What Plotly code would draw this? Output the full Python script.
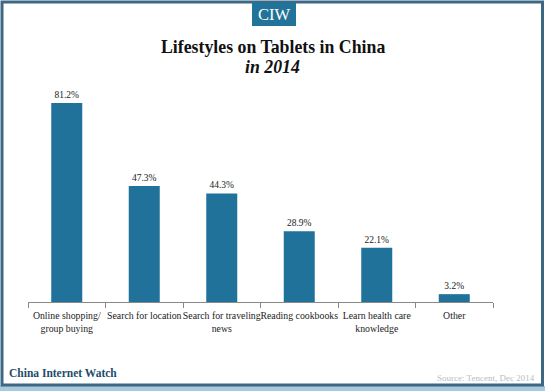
import plotly.graph_objects as go

categories = ["Online shopping/<br>group buying", "Search for location",
              "Search for traveling<br>news", "Reading cookbooks",
              "Learn health care<br>knowledge", "Other"]
values = [81.2, 47.3, 44.3, 28.9, 22.1, 3.2]
value_labels = ["81.2%", "47.3%", "44.3%", "28.9%", "22.1%", "3.2%"]

W, H = 545, 391
def px(x): return x / W
def py(y): return 1 - y / H

BAR = "#21729b"
SERIF = "Liberation Serif"

fig = go.Figure()
fig.add_trace(go.Bar(
    x=categories, y=values, text=value_labels, textposition="outside",
    textfont=dict(family=SERIF, size=9.5, color="#222"),
    marker=dict(color=BAR, line=dict(width=0)), width=0.4,
    cliponaxis=False, hoverinfo="skip"))

fig.update_layout(
    width=W, height=H, margin=dict(l=0, r=0, t=0, b=0),
    paper_bgcolor="white", plot_bgcolor="white", showlegend=False,
    xaxis=dict(domain=[px(28), px(493)], showline=True, linecolor="#8a8a8a", linewidth=1,
               ticks="outside", tickson="boundaries", ticklen=5, tickcolor="#8a8a8a",
               tickfont=dict(family=SERIF, size=9.8, color="#222"), showgrid=False,
               tickangle=0, ticklabelstandoff=4),
    yaxis=dict(domain=[py(302), py(93)], range=[0, 85.3], visible=False, showgrid=False),
    font=dict(family=SERIF),
)

shapes = [
    dict(type="rect", xref="paper", yref="paper", x0=0, x1=1, y0=py(391), y1=py(386),
         fillcolor="#a9c9de", line=dict(width=0), layer="below"),
    dict(type="rect", xref="paper", yref="paper", x0=px(2), x1=px(542.5), y0=py(385), y1=py(2),
         fillcolor="rgba(0,0,0,0)", line=dict(color="#3d6884", width=3)),
    dict(type="rect", xref="paper", yref="paper", x0=px(252), x1=px(296), y0=py(26), y1=py(2),
         fillcolor="#22739a", line=dict(width=0)),
]
fig.update_layout(shapes=shapes)

ann = [
    dict(text="CIW", x=px(274), y=py(14.5), font=dict(family=SERIF, size=16.5, color="white")),
    dict(text="<b>Lifestyles on Tablets in China</b>", x=px(273), y=py(47),
         font=dict(family=SERIF, size=17.8, color="#111")),
    dict(text="<b><i>in 2014</i></b>", x=px(272.5), y=py(67),
         font=dict(family=SERIF, size=17.8, color="#111")),
    dict(text="<b>China Internet Watch</b>", x=px(7), y=py(373), xanchor="left",
         font=dict(family=SERIF, size=11.5, color="#1e4c6b")),
    dict(text="Source: Tencent, Dec 2014", x=px(537), y=py(378), xanchor="right",
         font=dict(family=SERIF, size=9, color="#bcbcbc")),
]
for a in ann:
    a.setdefault("xanchor", "center")
    fig.add_annotation(xref="paper", yref="paper", showarrow=False, yanchor="middle", **a)

fig.write_html("out.html", config={"displayModeBar": False},
               post_script="document.body.style.margin='0';document.body.style.overflow='hidden';")
